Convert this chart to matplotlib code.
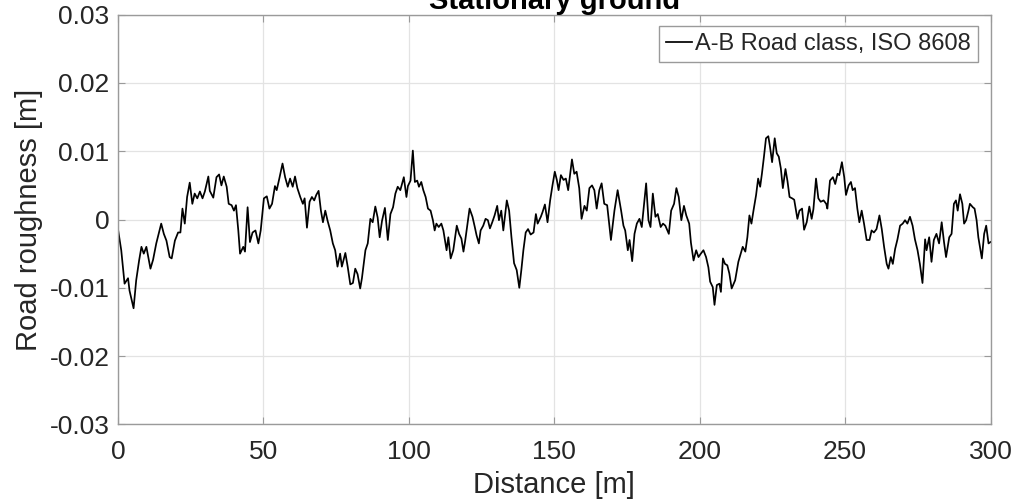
import numpy as np
import matplotlib
matplotlib.use("Agg")
import matplotlib.pyplot as plt

plt.rcParams['font.family'] = ['Liberation Sans', 'DejaVu Sans']

# ---- data (distance in m, roughness in mm) ----
distance_m = [
    0.0, 1.16, 2.3, 3.5, 4.0, 5.4, 6.3, 7.3, 8.1, 8.9, 9.8, 11.2, 12.1, 13.2, 14.9, 15.8,
    16.7, 17.8, 18.5, 19.6, 20.7, 21.5, 22.2, 23.0, 23.8, 24.7, 25.6, 26.4, 27.3, 28.2,
    29.1, 29.9, 31.1, 31.6, 32.8, 33.9, 34.8, 35.6, 36.4, 37.4, 38.1, 39.1, 39.9, 40.6,
    41.4, 42.0, 43.1, 43.7, 44.6, 45.4, 46.3, 47.3, 48.3, 49.1, 50.2, 51.2, 52.1, 53.0,
    54.0, 54.6, 55.5, 56.6, 57.5, 58.4, 59.2, 60.1, 60.9, 61.7, 62.7, 63.6, 64.2, 65.0,
    65.9, 66.7, 67.5, 68.2, 69.0, 69.8, 70.5, 71.3, 72.1, 73.0, 73.9, 74.7, 75.5, 76.4,
    77.0, 78.2, 79.0, 79.9, 80.8, 81.6, 82.4, 83.3, 83.9, 85.1, 85.9, 86.8, 87.6, 88.5,
    89.3, 90.0, 90.8, 91.8, 92.8, 93.7, 94.6, 95.4, 96.2, 97.1, 98.3, 99.2,
    99.7, 100.6, 101.4, 102.1, 102.9, 103.5, 104.3, 105.0, 105.8, 106.6, 107.5, 108.3,
    108.9, 109.5, 110.3, 111.2, 111.9, 113.0, 113.6, 114.4, 115.3, 116.5, 117.3, 118.1,
    118.8, 119.4, 120.2, 120.9, 121.9, 122.7, 123.3, 124.1, 124.7, 125.6, 126.4, 127.2,
    127.9, 128.7, 129.5, 130.4, 131.0, 131.8, 132.5, 133.7, 134.5, 135.3, 136.2, 137.1,
    138.0, 138.7, 139.4, 140.2, 141.0, 141.9, 142.9, 143.7, 144.3, 145.4, 146.0, 146.8,
    147.7, 148.6, 149.4, 150.2, 150.9, 151.5, 152.3, 153.2, 154.0, 154.8, 156.1, 156.9,
    157.7, 158.6, 159.4, 160.4, 161.2, 162.1, 163.0, 163.8, 164.6, 165.5, 166.3, 167.2,
    168.2, 169.0, 169.5, 170.7, 171.8, 173.0, 173.8, 174.4, 175.3, 175.9, 176.8, 177.6,
    178.4, 179.3, 180.1, 181.6, 182.4, 183.1, 183.9, 184.8, 185.6, 186.6, 187.4, 188.2,
    188.9, 189.4, 190.2, 191.2, 192.0, 192.8, 193.7, 194.6, 195.4, 196.4,
    197.0, 197.9, 198.8, 199.6, 200.4, 201.3, 202.2, 203.0, 203.6, 204.5, 205.1, 205.9,
    206.8, 207.3, 208.0, 208.7, 209.5, 210.2, 211.0, 212.2, 213.3, 214.1, 214.8, 215.7,
    216.4, 217.1, 217.8, 218.5, 219.4, 220.1, 220.8, 221.4, 222.1, 222.8, 223.6, 224.2,
    224.9, 225.8, 226.5, 227.2, 227.9, 228.6, 229.5, 230.2, 230.9, 231.8, 232.5, 233.6,
    234.3, 235.2, 235.9, 236.8, 237.7, 238.5, 239.1, 240.0, 240.8, 241.6, 242.6, 243.5,
    243.9, 244.8, 245.8, 246.6, 247.4, 248.0, 248.9, 249.7, 250.3, 251.2, 252.0, 252.6,
    253.4, 254.2, 254.9, 255.7, 256.5, 257.4, 258.4, 259.1, 259.9, 260.8, 261.8, 262.6,
    263.4, 264.3, 264.9, 265.7, 266.4, 267.2, 268.0, 268.9, 269.8, 270.6, 271.4, 272.3,
    273.2, 274.0, 274.9, 275.7, 276.6, 277.5, 278.0, 278.9, 279.7, 280.5, 281.4, 282.3,
    283.2, 284.0, 284.7, 285.8, 286.6, 287.4, 288.1, 288.7, 289.5, 290.3, 290.9, 291.6,
    292.4, 292.9, 293.9, 294.5, 295.2, 295.8, 297.0, 297.8, 298.5, 299.3, 300.0,
]
roughness_mm = [
    -1.3, -4.5, -9.4, -8.6, -10.4, -13.0, -8.9, -6.0, -4.0, -5.0, -4.0, -7.2, -5.9, -3.5, -0.6, -2.1,
    -3.1, -5.5, -5.7, -3.1, -1.9, -1.9, 1.6, -0.6, 3.3, 5.4, 2.3, 3.8, 3.1, 4.1,
    3.1, 4.1, 6.3, 4.2, 3.2, 6.2, 6.6, 5.0, 6.3, 4.8, 2.3, 2.1, 1.3, 2.1,
    -1.6, -5.0, -4.0, -4.7, 1.8, -3.3, -1.9, -1.6, -3.5, -1.6, 3.1, 3.4, 1.6, 2.3,
    4.9, 4.3, 6.0, 8.2, 6.2, 4.8, 6.0, 4.8, 6.3, 4.6, 3.3, 2.3, 3.1, -1.2,
    2.6, 3.3, 2.8, 3.6, 4.2, 1.3, -0.4, 1.3, -0.2, -1.6, -3.5, -4.5, -6.9, -5.0,
    -6.9, -4.9, -6.9, -9.5, -9.3, -7.2, -8.0, -10.1, -8.6, -4.5, -3.5, 0.1, -0.4, 1.9,
    0.3, -2.6, -0.2, 1.7, -3.0, 0.8, 1.8, 3.8, 4.8, 4.3, 6.2, 3.3,
    4.9, 5.7, 10.1, 5.5, 5.7, 4.8, 5.5, 4.3, 3.3, 1.6, 1.3, -0.1,
    -1.6, -0.6, -1.1, -0.6, -1.6, -4.5, -2.6, -5.7, -4.5, -0.9, -2.1, -2.8,
    -4.7, -3.1, -0.6, 1.6, 0.4, -1.1, -2.3, -3.5, -1.6, -0.9, 0.1, -0.1,
    -1.3, -0.4, 0.6, 2.0, -0.1, 1.3, -1.6, 2.8, 1.3, -2.6, -6.4, -7.4,
    -10.0, -7.4, -4.5, -1.9, -1.4, -2.2, -1.9, 0.8, -0.6, 0.4, 1.1, 2.2,
    -0.4, 2.8, 5.0, 7.0, 5.8, 4.3, 6.5, 5.8, 6.0, 4.3, 8.8, 6.7,
    7.0, 4.6, 0.1, 2.0, 1.3, 4.6, 5.0, 4.3, 1.6, 4.3, 5.3, 2.3,
    2.1, -1.1, -3.0, 1.3, 4.3, 1.3, -0.9, -1.6, -4.5, -3.0, -6.1, -2.1,
    -0.6, 0.1, -1.1, 5.3, -0.1, -1.1, 3.8, 0.4, 0.8, -1.1, -0.6, -0.9,
    -1.6, -2.1, 1.3, 2.3, 4.6, 3.3, -0.1, 2.0, 0.6, -0.6,
    -3.4, -6.0, -4.5, -5.5, -5.0, -4.5, -5.5, -7.0, -9.1, -9.9, -12.5, -9.6,
    -9.4, -10.6, -5.7, -6.5, -6.7, -7.9, -10.1, -8.9, -6.2, -5.0, -4.0, -4.7,
    -2.6, 0.6, -0.6, 1.3, 3.6, 6.0, 4.8, 6.7, 9.2, 11.9, 12.2, 10.6,
    8.4, 11.9, 9.7, 9.2, 7.5, 4.6, 7.4, 5.6, 3.3, 3.1, 2.9, 0.1,
    1.3, 1.6, -1.5, -0.4, 1.9, 0.1, 1.5, 6.0, 3.1, 2.6, 2.8, 2.3,
    1.6, 5.7, 6.2, 5.2, 6.7, 6.5, 8.4, 6.2, 3.6, 5.0, 5.5, 4.3,
    4.6, 1.6, -0.4, 1.3, -0.6, -3.0, -3.0, -1.6, -1.9, -1.4, 0.6, -1.4,
    -4.0, -6.5, -7.2, -5.5, -6.5, -4.3, -2.9, -0.9, -0.6, -0.1, -0.6, 0.4,
    -0.9, -2.9, -4.5, -6.5, -9.3, -2.9, -4.5, -2.6, -6.2, -3.0, -2.1, -3.5,
    -0.4, -3.3, -5.5, -2.6, -2.1, 2.3, 2.8, 1.3, 3.7, 2.3, -0.6, -0.1,
    1.3, 2.3, 1.8, 1.6, -0.1, -2.6, -5.7, -2.1, -0.9, -3.5, -3.3,
]

x_ticks = [0, 50, 100, 150, 200, 250, 300]
y_ticks = [-0.03, -0.02, -0.01, 0, 0.01, 0.02, 0.03]
y_tick_labels = ['-0.03', '-0.02', '-0.01', '0', '0.01', '0.02', '0.03']
series_label = 'A-B Road class, ISO 8608'
title_text = 'Stationary ground'

roughness_m = np.array(roughness_mm) / 1000.0

fig = plt.figure(figsize=(10.17, 5.04), dpi=100)
ax = fig.add_axes([0.1159, 0.1581, 0.8581, 0.8127])

ax.plot(distance_m, roughness_m, color='black', lw=1.25, label=series_label)

ax.set_xlim(0, 300)
ax.set_ylim(-0.03, 0.03)
ax.set_xticks(x_ticks)
ax.set_xticklabels([str(t) for t in x_ticks])
ax.set_yticks(y_ticks)
ax.set_yticklabels(y_tick_labels)

ax.grid(True, color='#e3e3e3', lw=0.9)
ax.set_axisbelow(True)
for s in ax.spines.values():
    s.set_color('#9a9a9a')
    s.set_linewidth(1.0)

ax.tick_params(axis='both', direction='in', length=5, width=0.8, color='#9a9a9a',
               top=True, right=True, labelsize=19, labelcolor='#262626')
ax.tick_params(axis='x', pad=11)
ax.tick_params(axis='y', pad=6)

ax.set_xlabel('Distance [m]', fontsize=21, color='#262626', labelpad=5)
ax.set_ylabel('Road roughness [m]', fontsize=21, color='#262626', labelpad=5)
ax.set_title(title_text, fontsize=21, fontweight='bold', pad=4)

leg = ax.legend(loc='upper right', bbox_to_anchor=(0.9857, 0.9724), borderaxespad=0,
                fontsize=17, handlelength=1.1, handletextpad=0.15, borderpad=0.3,
                fancybox=False, framealpha=1, edgecolor='#9a9a9a')
leg.get_frame().set_linewidth(1.0)
for t in leg.get_texts():
    t.set_color('#262626')

fig.savefig('out.png', dpi=100)
